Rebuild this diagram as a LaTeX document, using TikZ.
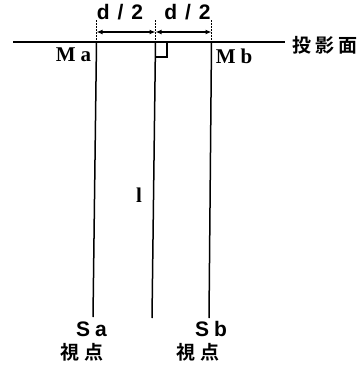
\documentclass[tikz,border=0pt]{standalone}
\usepackage{fontspec}
\setmainfont{Liberation Serif}
\setsansfont{Liberation Sans}
\newfontfamily\cjkfont{Noto Sans CJK JP Bold}
\usetikzlibrary{arrows.meta}
\begin{document}
\begin{tikzpicture}[x=1pt,y=-1pt,
  mainline/.style={line width=1.8pt},
  vline/.style={line width=1.5pt},
  extline/.style={line width=1pt,dash pattern=on 1.5pt off 1.5pt},
  dimline/.style={line width=1.4pt,{Latex[length=6pt,width=5pt]}-{Latex[length=6pt,width=5pt]}},
  serlabel/.style={font=\fontsize{21}{21}\selectfont\bfseries, inner sep=0pt},
  sanslabel/.style={font=\sffamily\fontsize{21}{21}\selectfont\bfseries, inner sep=0pt},
  cjklabel/.style={font=\cjkfont\fontsize{19}{19}\selectfont, inner sep=0pt}]
\useasboundingbox (0,0) rectangle (364,367);
% coordinates
\coordinate (L0) at (13,42);
\coordinate (L1) at (285,42);
\coordinate (Atop) at (96.5,42);
\coordinate (Abot) at (93,317);
\coordinate (Ctop) at (155.5,42);
\coordinate (Cbot) at (152,318);
\coordinate (Btop) at (211.5,42);
\coordinate (Bbot) at (209,318);
\coordinate (Aext) at (96.5,20);
\coordinate (Cext) at (155.5,20);
\coordinate (Bext) at (211.5,20);
\coordinate (Adim) at (96.5,32);
\coordinate (Cdim) at (155.5,32);
\coordinate (Bdim) at (211.5,32);
\coordinate (R1) at (155.5,57);
\coordinate (R2) at (167,57);
\coordinate (R3) at (167,42);
% projection plane
\draw[mainline] (L0) -- (L1);
\node[cjklabel, anchor=west] (plane) at (292,45) {投\hspace{4pt}影\hspace{4pt}面};
% verticals
\draw[vline] (Atop) -- (Abot);
\draw[vline] (Ctop) -- (Cbot);
\draw[vline] (Btop) -- (Bbot);
% extension lines
\draw[extline] (Aext) -- (Atop);
\draw[extline] (Cext) -- (Ctop);
\draw[extline] (Bext) -- (Btop);
% dimension lines
\draw[dimline] (Adim) -- (Cdim);
\draw[dimline] (Cdim) -- (Bdim);
\node[sanslabel] (d1) at (120,12) {d\hspace{8pt}/\hspace{8pt}2};
\node[sanslabel] (d2) at (187.5,12) {d\hspace{8pt}/\hspace{8pt}2};
% right angle
\draw[line width=1.2pt] (R1) -- (R2) -- (R3);
% labels
\node[serlabel] (Ma) at (73.5,55) {M\hspace{5pt}a};
\node[serlabel] (Mb) at (234,56) {M\hspace{5pt}b};
\node[serlabel] (l) at (139,195) {l};
\node[sanslabel] (Sa) at (91.5,329) {S\hspace{5pt}a};
\node[sanslabel] (Sb) at (211,329) {S\hspace{5pt}b};
\node[cjklabel] (va) at (82,352) {視\hspace{6pt}点};
\node[cjklabel] (vb) at (198,352) {視\hspace{6pt}点};
\end{tikzpicture}
\end{document}
